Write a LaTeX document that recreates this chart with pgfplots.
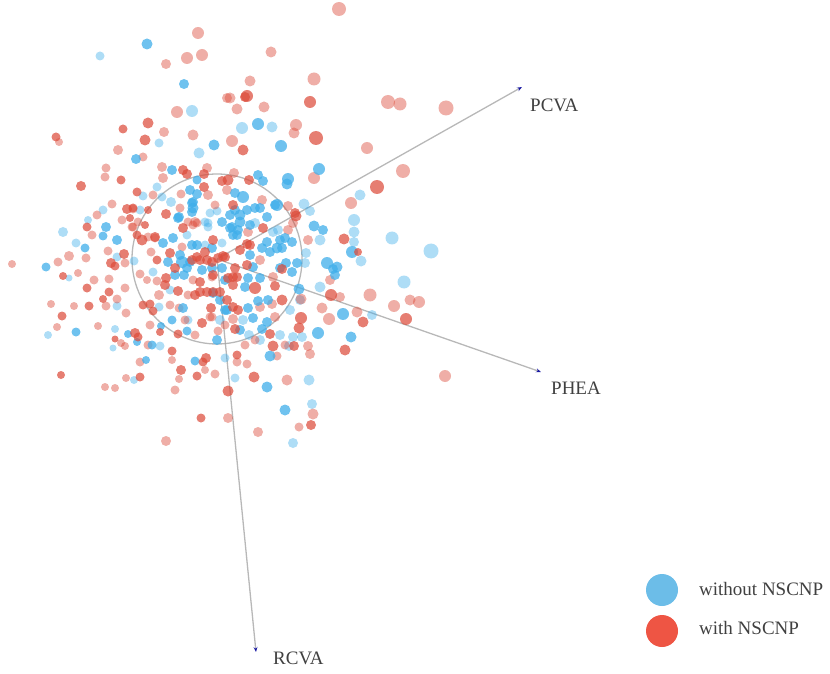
\documentclass[border=0pt]{standalone}
\usepackage{fontspec}
\setmainfont{Liberation Serif}
\usepackage{pgfplots}
\usepackage{pgfplotstable}
\pgfplotsset{compat=1.18}
\usetikzlibrary{arrows.meta}

\definecolor{nored}{HTML}{DC4C3B}
\definecolor{noblue}{HTML}{3FAEEA}
\definecolor{legblue}{HTML}{6CBDE8}
\definecolor{legred}{HTML}{EE5544}

% x y r, in picture pixels
\pgfplotstableread{
x y r
198 33 6
202 55 6
187 58 6
166 64 5
227 98 5
177 112 6
164 132 5
193 135 5.5
59 142 4
118 150 5
143 157 4.5
162 167 5
106 168 4.5
105 177 4.5
207 168 5
163 178 5
181 194 4.5
208 195 5
227 190 5
153 195 4.5
112 204 4.5
133 209 4.5
97 215 4.5
122 220 4.5
180 208 4.5
215 205 4.5
138 222 4.5
132 227 4.5
197 223 4.5
339 9 7
271 52 5.5
314 79 6.5
250 81 5.5
230 98 5.5
388 102 7
400 104 6.5
446 108 7.5
237 109 5.5
264 107 5.5
296 125 6
294 133 5.5
232 141 6
367 148 6
403 171 7
314 178 6
234 173 5
351 203 6
288 206 5
262 200 5
288 230 5
308 240 5
330 280 5
340 297 5
370 295 6.5
394 306 6
410 300 5.5
419 302 6
357 312 5.5
322 308 5.5
329 319 6
301 299 5.5
308 346 5
310 354 5
277 356 4.5
445 376 6
287 380 5.5
247 364 4.5
237 362 4.5
313 414 5.5
299 427 4.5
258 432 5
228 418 5
248 232 5
260 260 5
273 277 5
272 304 5
260 307 5
233 319 5
275 317 5
12 264 4
58 262 4.5
69 256 5
92 235 4.5
86 258 4.5
108 251 4.5
78 273 4
94 280 4.5
109 279 4.5
125 263 4.5
125 288 4.5
117 299 4.5
106 306 4.5
51 304 4
74 306 4
126 313 4.5
57 327 4
98 326 4
121 343 4
125 346 4
148 345 4.5
172 360 4
140 362 4.5
205 370 4
179 379 4
215 374 4.5
126 378 4
105 387 4
115 388 4
175 390 4.5
166 441 5
151 252 4.5
140 274 4.5
147 280 4
157 281 4.5
159 295 5
179 308 4.5
218 331 4.5
193 280 4.5
188 295 4.5
212 317 4.5
182 247 4.5
193 225 4.5
133 227 4.5
293 223 5
195 222 5
188 222 4.5
155 238 4.5
148 237 4.5
212 277 4.5
210 317 4.5
185 320 4.5
195 335 4.5
225 325 4.5
245 345 4.5
255 340 4.5
285 345 4.5
170 305 4.5
150 325 4.5
}\redlight

\pgfplotstableread{
x y r
148 123 5.5
123 129 4.5
56 137 4.5
145 140 5.5
183 170 5
187 174 5
204 174 5
121 180 4.5
81 186 5
222 181 5
228 180 5.5
204 187 5
137 192 4.5
127 209 5
166 214 5
87 227 4.5
183 228 5
247 96 6
245 97 5
310 102 6
316 138 7
243 150 5.5
377 187 7
249 180 5
296 216 5.5
233 205 5
263 228 5
344 239 5.5
358 252 4
331 295 6
406 319 6
363 322 5.5
299 328 5.5
301 318 6
345 350 5.5
270 334 5
273 346 5.5
294 346 5
254 377 5.5
237 355 4.5
228 391 5.5
311 425 5
247 244 5
223 256 5
282 269 5
247 265 5
235 268 5
233 277 5
233 285 5
275 286 5
255 288 6
282 300 5.5
227 300 5
233 307 5
235 329 5
111 263 5
115 266 4.5
63 276 4
87 288 4.5
109 292 4.5
103 299 4
89 306 4.5
62 316 4.5
135 333 5
138 337 4.5
115 339 3.5
160 332 4
172 351 4.5
206 358 5
203 362 4.5
181 370 5
197 376 4.5
61 375 4
140 377 4.5
124 254 5
201 418 4.5
142 240 5.5
137 235 4.5
155 237 5
170 253 5
157 260 4.5
166 278 5
165 285 5
175 268 5
178 291 5
143 305 4.5
150 304 4.5
153 311 4.5
202 323 5
178 334 4.5
200 282 5
207 292 5
200 292 5
211 308 5
200 260 5
197 257 5
213 275 5
218 258 5
207 260 5
213 240 5
133 208 4.5
295 213 5
238 310 5
225 257 5
192 260 5
250 245 5
237 277 5
213 292 5
195 295 5
212 262 5
205 252 5
220 292 5
228 278 5
240 250 5
148 210 4
130 218 4
145 225 4
}\reddark

\pgfplotstableread{
x y r
100 56 4.5
192 111 6
159 143 4.5
199 153 5.5
157 187 4.5
143 196 4.5
162 197 4.5
171 202 5
103 210 4.5
140 210 4.5
217 211 4.5
210 213 4.5
88 220 4
63 232 5
208 223 4.5
242 128 6
272 127 5.5
360 195 5.5
304 204 5.5
310 211 5
354 220 6
255 223 5
354 232 5.5
392 238 6.5
431 251 7.5
354 242 5
361 261 5.5
320 240 5.5
306 253 5
404 282 6.5
320 287 5.5
372 315 5
290 310 5
293 337 5
302 337 5
289 346 5
309 380 5.5
235 378 4.5
225 358 4.5
312 404 5
293 443 5
273 232 5
243 320 5
249 335 5
76 243 4.5
69 278 3.5
117 257 4.5
134 261 4.5
117 306 4.5
48 335 4
115 329 4
113 348 3.5
160 346 4.5
134 380 4
153 272 4.5
159 307 4.5
187 235 4.5
208 227 4.5
278 230 5
205 222 4.5
205 245 4.5
222 243 4.5
305 263 5
170 290 4.5
188 320 4.5
220 320 5
260 340 5
280 335 5
300 300 5
}\bluelight

\pgfplotstableread{
x y r
147 44 5.5
184 84 5
214 145 5.5
136 159 5
172 170 5
197 180 4.5
190 190 5
197 194 5
193 202 5
193 208 5.5
179 217 5
106 227 5
258 124 6
281 146 6
319 169 6
288 179 6
287 184 5.5
258 175 5
263 181 5
277 205 6
235 193 5
243 197 6
235 210 5
247 210 5
260 208 5
267 217 5
314 226 5.5
323 230 5
232 227 5
352 252 6
327 263 6
337 267 5.5
333 269 5
335 275 5
299 289 5.5
343 314 6
318 333 6
351 337 5.5
270 356 5.5
267 387 5.5
285 410 5.5
237 235 5
267 242 5
250 255 5
277 248 5.5
292 242 5
286 263 5
297 263 5
292 272 5
253 267 5
248 278 5
260 278 5
258 301 5
248 308 5
253 318 5
267 322 5
262 329 5
225 310 5
46 267 4.5
85 248 4.5
103 236 4.5
117 240 5
76 332 4.5
128 334 4
137 342 4
152 345 4.5
161 326 4
146 360 4
195 361 4.5
163 243 5
173 238 5
182 262 6
187 268 5
172 320 4.5
183 308 5
187 331 4.5
217 340 5
213 293 5
220 300 5
227 310 5
197 245 5
222 268 5
202 270 5
192 203 5
192 212 5
178 218 5
230 228 5
238 230 5
275 205 5
255 208 5
233 235 5
192 245 5
212 248 5
282 248 5
280 268 5
240 215 5.5
240 222 5.5
230 215 5
222 222 5
250 225 5
280 240 5
270 252 5
262 248 5
285 238 5
245 287 5
180 255 5
190 262 5
175 275 5
184 275 5
168 262 5
212 268 5
225 280 5
268 300 5
240 330 5
}\bluedark

\pgfplotsset{
    dots/.style 2 args={
        scatter, only marks, mark=*,
        visualization depends on={\thisrow{r}\as\pr},
        scatter/use mapped color={draw opacity=0, fill=#1, fill opacity=#2},
        scatter/@pre marker code/.append style={/tikz/mark size=\pr},
    },
    spoke/.style={
        draw=gray!70, line width=1.3pt, no marks, opacity=0.8,
        -{Stealth[length=5pt,width=4pt,color=blue!60!black]},
    },
}

\begin{document}
\begin{tikzpicture}
    \useasboundingbox (0,0) rectangle (830pt,674pt);
    \begin{axis}[
        at={(0,0)}, anchor=south west,
        width=830pt, height=674pt, scale only axis,
        xmin=0, xmax=830, ymin=0, ymax=674,
        y dir=reverse,
        hide axis, clip=false,
    ]
    \draw[gray!70, line width=1.3pt, opacity=0.8] (axis cs:217,259) circle [radius=85pt];

    \addplot[spoke] coordinates {(217,259) (522,87)};
    \addplot[spoke] coordinates {(217,259) (541,372)};
    \addplot[spoke] coordinates {(217,259) (256,652)};

    \addplot[dots={noblue}{0.42}] table[x=x, y=y] {\bluelight};
    \addplot[dots={nored}{0.45}] table[x=x, y=y] {\redlight};
    \addplot[dots={noblue}{0.75}] table[x=x, y=y] {\bluedark};
    \addplot[dots={nored}{0.72}] table[x=x, y=y] {\reddark};

    % legend
    \addplot[dots={legblue}{1}] table[x=x, y=y] {
        x y r
        662 590 16
    };
    \addplot[dots={legred}{1}] table[x=x, y=y] {
        x y r
        662 631 16
    };

    \tikzset{lab/.style={anchor=west, inner sep=0pt, text=black!75, font=\fontsize{19}{21}\selectfont}}
    \node[lab] at (axis cs:530,105) {PCVA};
    \node[lab] at (axis cs:551,388) {PHEA};
    \node[lab] at (axis cs:273,658) {RCVA};
    \node[lab] at (axis cs:699,589) {without NSCNP};
    \node[lab] at (axis cs:699,628) {with NSCNP};
    \end{axis}
\end{tikzpicture}
\end{document}
